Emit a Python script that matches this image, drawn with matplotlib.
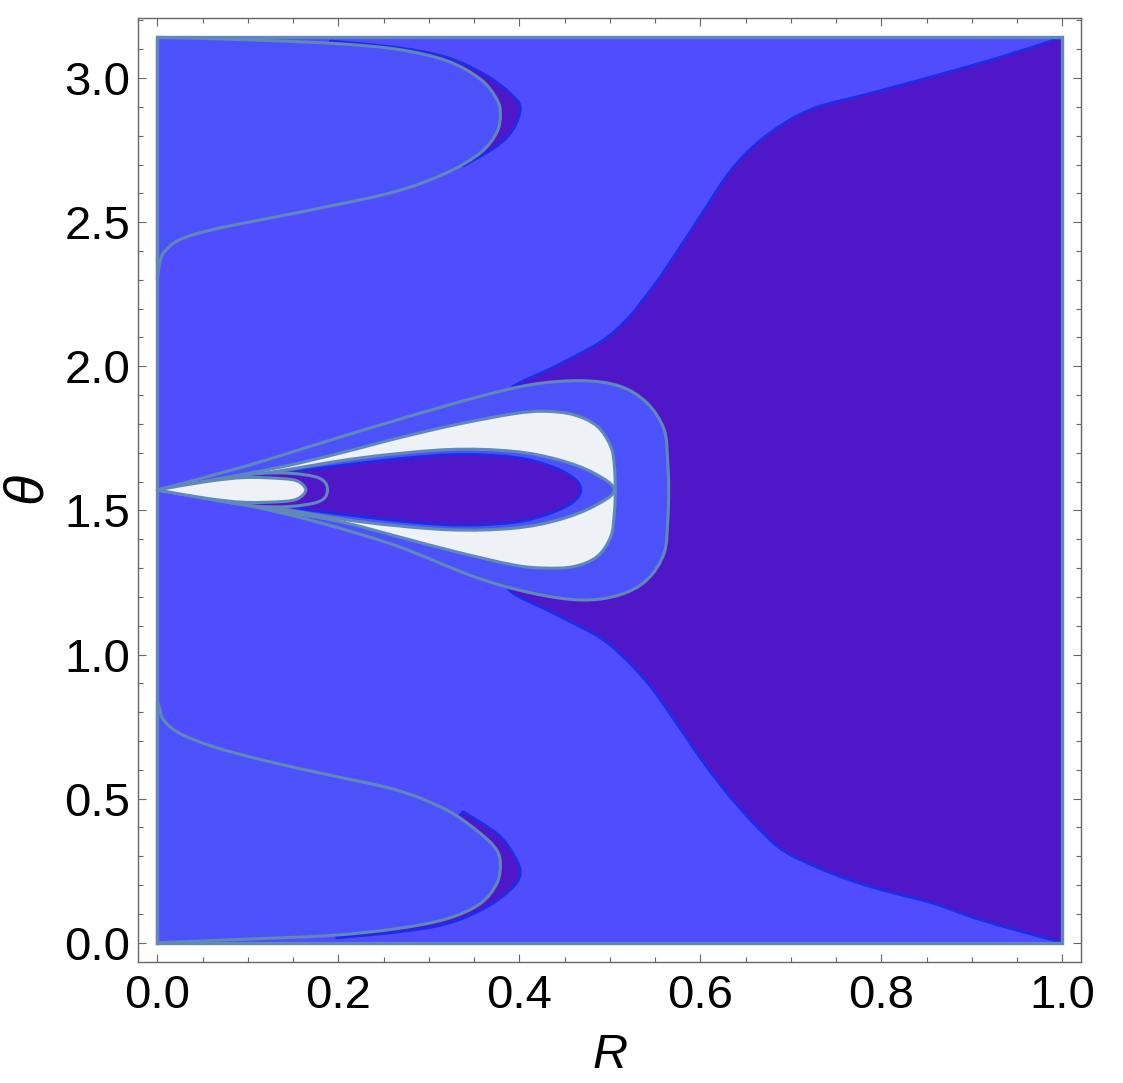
import numpy as np
import matplotlib.pyplot as plt
from matplotlib.path import Path
from matplotlib.patches import PathPatch
from matplotlib.ticker import MultipleLocator

plt.rcParams['font.family'] = ['Liberation Sans', 'DejaVu Sans']

# domain
R_lo, R_hi = 0.0, 1.0
th_lo, th_hi = 0.0, np.pi

# colours
c_bg = '#504CFF'
c_loop = '#4C52FA'
c_dark = '#5017C8'
c_white = '#EEF2F7'
c_line = '#6088B8'
c_edge = '#1E2CE8'

# big dark region on the right (boundary)
dark_upper = [(1.0, 3.1416), (0.931, 3.072), (0.857, 3.006), (0.784, 2.944), (0.729, 2.899),
              (0.691, 2.840), (0.655, 2.753), (0.629, 2.660), (0.607, 2.555), (0.581, 2.430),
              (0.556, 2.312), (0.538, 2.236), (0.518, 2.160), (0.490, 2.085), (0.440, 2.000),
              (0.389, 1.919), (0.40, 1.85)]
dark_lower = [(0.40, 1.29), (0.389, 1.224), (0.440, 1.140), (0.490, 1.057), (0.518, 0.982),
              (0.540, 0.908), (0.556, 0.842), (0.581, 0.728), (0.607, 0.610), (0.636, 0.495),
              (0.663, 0.401), (0.691, 0.321), (0.729, 0.262), (0.766, 0.217), (0.802, 0.182),
              (0.857, 0.137), (0.912, 0.077), (1.0, 0.0)]

# upper P-shaped loop and its dark crescent
p_top = [(0.0, 3.1416), (0.080, 3.135), (0.191, 3.121), (0.265, 3.100), (0.320, 3.060),
         (0.357, 2.996), (0.375, 2.927), (0.379, 2.875), (0.375, 2.811), (0.357, 2.741),
         (0.320, 2.672), (0.265, 2.608), (0.191, 2.556), (0.117, 2.510), (0.062, 2.475),
         (0.025, 2.440), (0.007, 2.394), (0.002, 2.348), (0.0, 2.30)]
cres_top = [(0.191, 3.129), (0.265, 3.106), (0.320, 3.072), (0.364, 3.008), (0.393, 2.938),
            (0.401, 2.892), (0.393, 2.822), (0.375, 2.764), (0.338, 2.695)]

# lower P-shaped loop and its dark crescent
p_bot = [(0.0, 0.84), (0.002, 0.819), (0.007, 0.772), (0.025, 0.726), (0.062, 0.680),
         (0.117, 0.633), (0.191, 0.581), (0.265, 0.529), (0.320, 0.460), (0.357, 0.379),
         (0.375, 0.321), (0.379, 0.269), (0.375, 0.205), (0.357, 0.136), (0.320, 0.083),
         (0.265, 0.049), (0.191, 0.025), (0.080, 0.010), (0.0, 0.0)]
cres_bot = [(0.198, 0.017), (0.265, 0.037), (0.320, 0.066), (0.364, 0.124), (0.393, 0.193),
            (0.401, 0.245), (0.393, 0.309), (0.375, 0.379), (0.338, 0.454)]

# central structure, outermost to innermost (each starts at the tip)
outer_loop = [(0.0, 1.571), (0.097, 1.653), (0.181, 1.734), (0.266, 1.815), (0.350, 1.890),
              (0.414, 1.937), (0.469, 1.950), (0.511, 1.931), (0.541, 1.873), (0.560, 1.780),
              (0.564, 1.664), (0.565, 1.572), (0.564, 1.467), (0.560, 1.352), (0.541, 1.259),
              (0.511, 1.207), (0.469, 1.189), (0.414, 1.213), (0.350, 1.270), (0.266, 1.375),
              (0.181, 1.456), (0.097, 1.519)]
white_band = [(0.0, 1.571), (0.131, 1.647), (0.202, 1.699), (0.266, 1.751), (0.329, 1.797),
              (0.393, 1.835), (0.427, 1.844), (0.460, 1.832), (0.486, 1.792), (0.501, 1.722),
              (0.505, 1.653), (0.506, 1.572), (0.505, 1.491), (0.501, 1.409), (0.486, 1.340),
              (0.460, 1.305), (0.427, 1.300), (0.393, 1.311), (0.329, 1.357), (0.266, 1.409),
              (0.202, 1.461), (0.131, 1.500)]
mid_loop = [(0.0, 1.571), (0.131, 1.635), (0.224, 1.682), (0.321, 1.711), (0.393, 1.705),
            (0.443, 1.676), (0.482, 1.630), (0.505, 1.571), (0.482, 1.514), (0.443, 1.467),
            (0.393, 1.438), (0.321, 1.433), (0.224, 1.461), (0.131, 1.508)]
drop = [(0.12, 1.571), (0.139, 1.624), (0.224, 1.664), (0.321, 1.693), (0.393, 1.685),
        (0.435, 1.653), (0.460, 1.612), (0.468, 1.571), (0.460, 1.531), (0.435, 1.491),
        (0.393, 1.458), (0.321, 1.450), (0.224, 1.479), (0.139, 1.519)]
small_loop = [(0.0, 1.571), (0.109, 1.627), (0.173, 1.618), (0.188, 1.571), (0.173, 1.525),
              (0.109, 1.515)]
small_white = [(0.0, 1.571), (0.054, 1.600), (0.097, 1.614), (0.139, 1.610), (0.156, 1.600),
               (0.164, 1.571), (0.156, 1.542), (0.139, 1.531), (0.097, 1.528), (0.054, 1.542)]


def chain(pts):
    # smooth curve through the read points (Catmull-Rom as cubic Bezier)
    p = np.array(pts, float)
    n = len(p)
    verts, codes = [], []
    for i in range(n - 1):
        p0 = p[i - 1] if i > 0 else p[i]
        p3 = p[i + 2] if i + 2 < n else p[i + 1]
        verts += [p[i] + (p[i + 1] - p0) / 6, p[i + 1] - (p3 - p[i]) / 6, p[i + 1]]
        codes += [Path.CURVE4] * 3
    return p[0], verts, codes


def shape(*chains_pts, loop_back=False):
    verts, codes = [], []
    for k, pts in enumerate(chains_pts):
        if loop_back:
            pts = list(pts) + [pts[0]]
        start, v, c = chain(pts)
        verts.append(start)
        codes.append(Path.MOVETO if k == 0 else Path.LINETO)
        verts += v
        codes += c
    verts.append(verts[0])
    codes.append(Path.CLOSEPOLY)
    return Path(np.array(verts), codes)


def patch(ax, path, face, edge=None, lw=2.2, z=2):
    ax.add_patch(PathPatch(path, facecolor=face, edgecolor='none', lw=0, zorder=z))
    if edge is not None:
        ax.add_patch(PathPatch(path, facecolor='none', edgecolor=edge, lw=lw, zorder=z + 0.5,
                               joinstyle='round'))


fig = plt.figure(figsize=(11.23, 10.83), dpi=100)
ax = fig.add_axes([0.1232, 0.1120, 0.8397, 0.8711])

ax.fill([R_lo, R_hi, R_hi, R_lo], [th_lo, th_lo, th_hi, th_hi], color=c_bg, lw=0, zorder=1)

# dark right region
patch(ax, shape(dark_upper, dark_lower), c_dark, c_edge, lw=2.0, z=2)

# P-shaped loops with crescents
patch(ax, shape(cres_top), c_dark, c_edge, lw=2.0, z=3)
patch(ax, shape(cres_bot), c_dark, c_edge, lw=2.0, z=3)
patch(ax, shape(p_top), c_loop, c_line, z=4)
patch(ax, shape(p_bot), c_loop, c_line, z=4)

# central structure
patch(ax, shape(outer_loop, loop_back=True), c_loop, c_line, z=5)
patch(ax, shape(white_band, loop_back=True), c_white, c_line, z=6)
patch(ax, shape(mid_loop, loop_back=True), c_loop, c_line, z=7)
patch(ax, shape(drop, loop_back=True), c_dark, c_edge, lw=2.0, z=8)
patch(ax, shape(small_loop, loop_back=True), c_dark, c_line, z=9)
patch(ax, shape(small_white, loop_back=True), c_white, c_line, z=10)

# region frame
ax.plot([R_lo, R_hi, R_hi, R_lo, R_lo], [th_lo, th_lo, th_hi, th_hi, th_lo],
        color=c_line, lw=2.4, zorder=12, solid_joinstyle='miter')

padx = 0.021 * (R_hi - R_lo)
pady = 0.021 * (th_hi - th_lo)
ax.set_xlim(R_lo - padx, R_hi + padx)
ax.set_ylim(th_lo - pady, th_hi + pady)

ax.xaxis.set_major_locator(MultipleLocator(0.2))
ax.xaxis.set_minor_locator(MultipleLocator(0.05))
ax.yaxis.set_major_locator(MultipleLocator(0.5))
ax.yaxis.set_minor_locator(MultipleLocator(0.1))
ax.xaxis.set_major_formatter(plt.FuncFormatter(lambda v, p: f'{v:.1f}'))
ax.yaxis.set_major_formatter(plt.FuncFormatter(lambda v, p: f'{v:.1f}'))

ax.tick_params(which='both', direction='in', top=True, right=True, color='#666666',
               width=0.8, labelsize=34, labelcolor='black')
ax.tick_params(which='major', length=6)
ax.tick_params(which='minor', length=3.6)
ax.tick_params(axis='x', which='major', pad=9)
ax.tick_params(axis='y', which='major', pad=6)
for s in ax.spines.values():
    s.set_color('#666666')
    s.set_linewidth(1.0)

fig.text(610 / 1123, 1 - 1056 / 1083, 'R', fontsize=35, style='italic', ha='center', va='center')
fig.text(27 / 1123, 1 - 488 / 1083, 'θ', fontsize=40, style='italic', rotation=90,
         ha='center', va='center')

fig.savefig('out.png', dpi=100)
